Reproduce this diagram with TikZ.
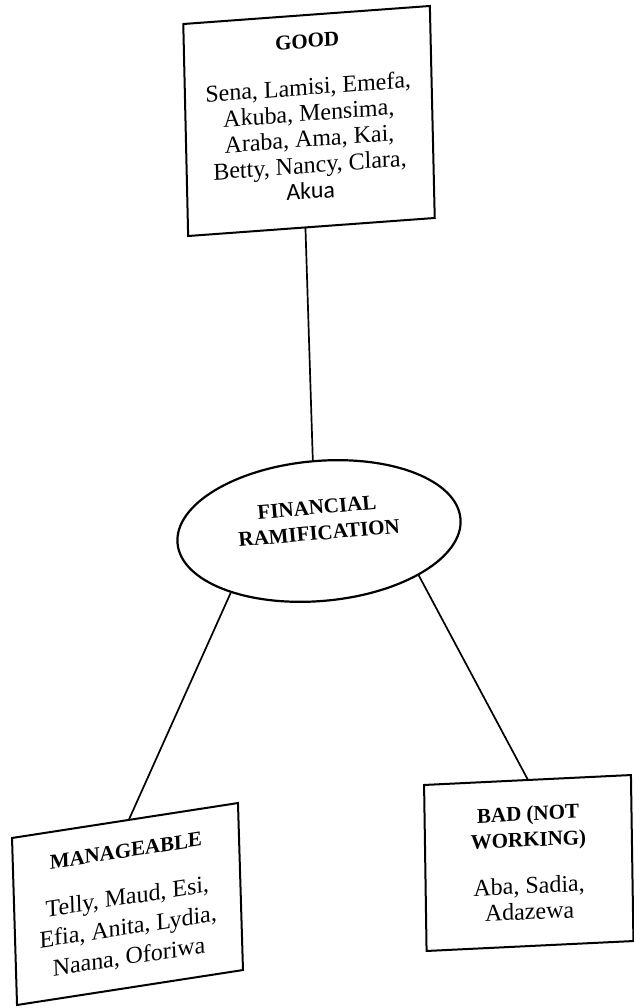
\documentclass[tikz,border=0pt]{standalone}
\usepackage{fontspec}
\setmainfont{Liberation Serif}
\newfontfamily\akuafont{Carlito}
\usetikzlibrary{shapes.geometric}

% bold heading inside a box
\newcommand\boxhead[1]{{\fontsize{21}{24}\selectfont\bfseries #1}}

\begin{document}
\begin{tikzpicture}[x=1pt,y=-1pt,
  every node/.style={font=\fontsize{24}{26}\selectfont},
  namebox/.style={draw, line width=2pt, align=center, inner sep=0pt},
  hub/.style={ellipse, draw, line width=2.2pt, align=center, inner sep=0pt},
  link/.style={line width=1.7pt}]

\useasboundingbox (0,0) rectangle (633,1008);

% central topic
\node[hub, minimum width=284pt, minimum height=140pt, rotate=5, text depth=22pt]
  (fr) at (319,531) {\boxhead{FINANCIAL}\\\boxhead{RAMIFICATION}};

% category boxes
\node[namebox, minimum width=247pt, minimum height=212pt,
      xslant=-0.023, yslant=0.073, text depth=9pt]
  (good) at (309,121)
  {\boxhead{GOOD}\\[21pt]
   Sena, Lamisi, Emefa,\\ Akuba, Mensima,\\ Araba, Ama, Kai,\\
   Betty, Nancy, Clara,\\ {\akuafont Akua}};

\node[namebox, minimum width=227pt, minimum height=167pt,
      xslant=-0.03, yslant=0.154, text depth=-7.5pt]
  (man) at (127.5,904)
  {\boxhead{MANAGEABLE}\\[21pt]
   Telly, Maud, Esi,\\[4pt] Efia, Anita, Lydia,\\[4pt] Naana, Oforiwa};

\node[namebox, minimum width=207pt, minimum height=166pt,
      xslant=-0.015, yslant=0.048]
  (bad) at (528.75,863)
  {\boxhead{BAD (NOT}\\\boxhead{WORKING)}\\[21pt]
   Aba, Sadia,\\ Adazewa};

% connectors
\draw[link] ([xshift=-6pt]good.south) -- (fr.north);
\draw[link] (fr.210) -- ([xshift=4pt]man.north);
\draw[link] (fr.331) -- (bad.north);

\end{tikzpicture}
\end{document}
